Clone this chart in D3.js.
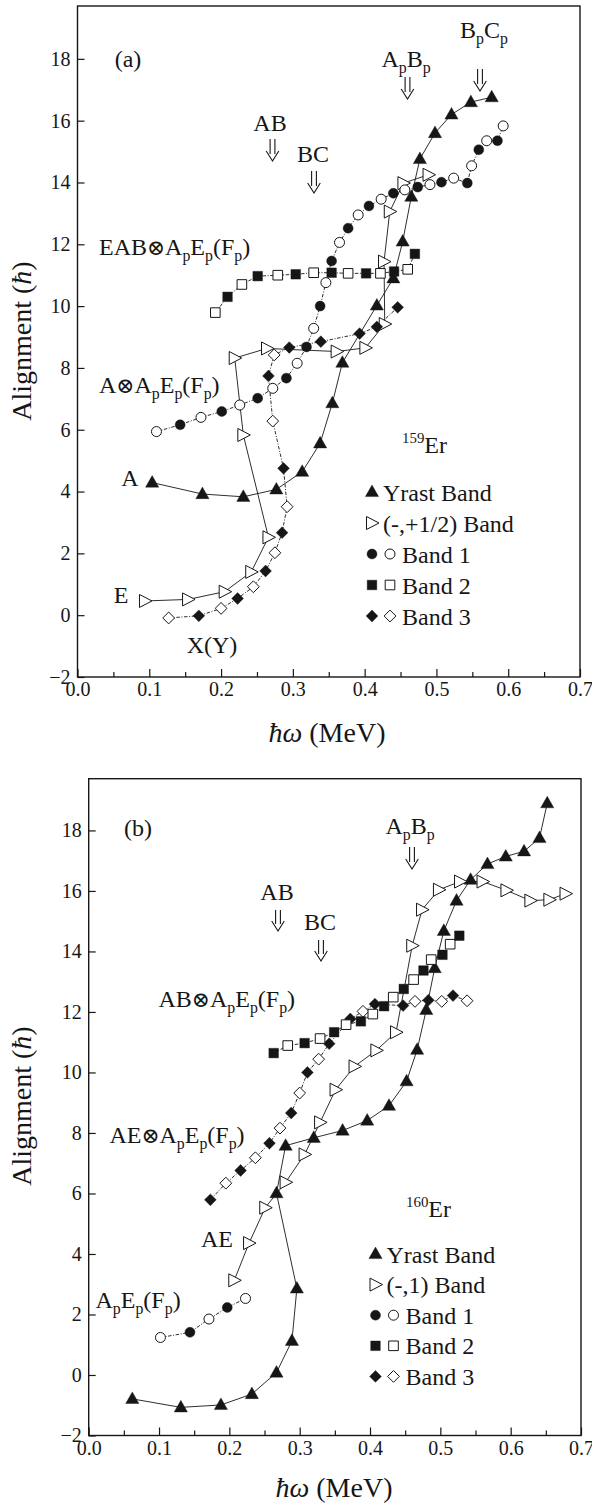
<!DOCTYPE html>
<html>
<head>
<meta charset="utf-8">
<script src="https://cdn.jsdelivr.net/npm/d3@7/dist/d3.min.js"></script>
<style>
  body { margin: 0; background: #fff; }
  svg { display: block; }
  text { font-family: "Liberation Serif", "Times New Roman", Times, serif; fill: #161616; }
</style>
</head>
<body>
<div id="fig"></div>
<script>
const WIDTH = 592, HEIGHT = 1508;
const FONT = '"Liberation Serif", "Times New Roman", Times, serif';

// axis ticks
const xTicks = [0, 0.1, 0.2, 0.3, 0.4, 0.5, 0.6, 0.7];
const xMinorTicks = [0.05, 0.15, 0.25, 0.35, 0.45, 0.55, 0.65];
const yTicks = [-2, 0, 2, 4, 6, 8, 10, 12, 14, 16, 18];

// ---- (a) 159Er : [hw, alignment] ; bands: [hw, alignment, filled?]
const yrastA = [[0.104,4.29],[0.174,3.92],[0.231,3.83],[0.277,4.07],[0.313,4.64],[0.338,5.56],[0.355,6.86],[0.369,8.17],
  [0.417,10.02],[0.440,10.9],[0.453,12.09],[0.465,13.54],[0.477,14.76],[0.498,15.6],[0.521,16.2],[0.548,16.6],[0.577,16.76]];
const minusHalfA = [[0.094,0.46],[0.154,0.51],[0.205,0.76],[0.242,1.40],[0.266,2.52],[0.231,5.83],[0.219,8.32],[0.264,8.63],
  [0.361,8.53],[0.401,8.65],[0.428,9.42],[0.427,11.44],[0.435,13.06],[0.454,13.98],[0.489,14.25]];
const band1A = [[0.110,5.94,0],[0.143,6.16,1],[0.172,6.40,0],[0.201,6.59,1],[0.226,6.80,0],[0.251,7.02,1],[0.272,7.34,0],
  [0.291,7.67,1],[0.306,8.15,0],[0.319,8.68,1],[0.329,9.28,0],[0.338,10.0,1],[0.346,10.76,0],[0.354,11.46,1],[0.365,12.06,0],
  [0.377,12.52,1],[0.391,12.95,0],[0.406,13.24,1],[0.423,13.46,0],[0.440,13.65,1],[0.456,13.76,0],[0.474,13.85,1],
  [0.491,13.93,0],[0.507,14.01,1],[0.524,14.14,0],[0.543,13.98,1],[0.549,14.54,0],[0.559,15.06,1],[0.570,15.35,0],
  [0.585,15.35,1],[0.593,15.83,0]];
const band2A = [[0.192,9.79,0],[0.209,10.30,1],[0.229,10.70,0],[0.251,10.97,1],[0.279,11.0,0],[0.304,11.03,1],[0.329,11.08,0],
  [0.354,11.08,1],[0.377,11.06,0],[0.402,11.06,1],[0.422,11.06,0],[0.441,11.12,1],[0.460,11.19,0],[0.470,11.69,1]];
const band3A = [[0.127,-0.09,0],[0.169,-0.02,1],[0.200,0.22,0],[0.223,0.54,1],[0.245,0.92,0],[0.262,1.43,1],[0.275,2.02,0],
  [0.285,2.67,1],[0.292,3.51,0],[0.287,4.75,1],[0.272,6.28,0],[0.266,7.74,1],[0.274,8.42,0],[0.295,8.66,1],[0.339,8.85,1],
  [0.393,9.11,1],[0.417,9.33,1],[0.446,9.96,1]];
const legendA = ["Yrast Band", "(-,+1/2) Band", "Band 1", "Band 2", "Band 3"];

// ---- (b) 160Er
const yrastB = [[0.062,-0.79],[0.131,-1.07],[0.188,-0.99],[0.232,-0.63],[0.267,0.08],[0.289,1.13],[0.296,2.86],[0.267,6.01],
  [0.280,7.58],[0.320,7.84],[0.361,8.08],[0.396,8.41],[0.427,8.90],[0.452,9.71],[0.467,10.75],[0.480,12.07],[0.492,13.45],
  [0.505,14.68],[0.523,15.68],[0.543,16.37],[0.567,16.89],[0.593,17.14],[0.619,17.31],[0.641,17.75],[0.652,18.9]];
const minusOneB = [[0.207,3.13],[0.228,4.36],[0.251,5.53],[0.280,6.37],[0.307,7.29],[0.329,8.35],[0.351,9.43],[0.378,10.20],
  [0.409,10.73],[0.437,11.33],[0.460,14.19],[0.474,15.38],[0.498,16.04],[0.528,16.31],[0.560,16.31],[0.594,16.02],
  [0.628,15.68],[0.655,15.71],[0.678,15.91]];
const band1B = [[0.102,1.24,0],[0.144,1.41,1],[0.171,1.85,0],[0.197,2.23,1],[0.223,2.53,0]];
const band2B = [[0.263,10.64,1],[0.283,10.89,0],[0.307,10.97,1],[0.329,11.12,0],[0.349,11.33,1],[0.366,11.58,0],[0.387,11.69,1],
  [0.404,11.93,0],[0.420,12.19,1],[0.433,12.49,0],[0.448,12.76,1],[0.462,13.07,0],[0.476,13.37,1],[0.487,13.73,0],
  [0.503,13.89,1],[0.514,14.24,0],[0.527,14.52,1]];
const band3B = [[0.173,5.79,1],[0.195,6.34,0],[0.216,6.76,1],[0.237,7.18,0],[0.257,7.66,1],[0.272,8.16,0],[0.288,8.66,1],
  [0.300,9.32,0],[0.311,10.0,1],[0.327,10.44,0],[0.342,10.95,1],[0.372,11.77,1],[0.390,12.02,0],[0.407,12.26,1],
  [0.447,12.21,1],[0.464,12.35,0],[0.483,12.39,1],[0.502,12.35,0],[0.518,12.54,1],[0.538,12.37,0]];
const legendB = ["Yrast Band", "(-,1) Band", "Band 1", "Band 2", "Band 3"];

const INK = '#161616';
const SHAPES = {
  tri: 'M0,-7L6.6,4.6L-6.6,4.6Z',
  rtri: 'M-5.5,-6.5L7,0L-5.5,6.5Z',
  circle: 'M5,0A5,5 0 1,1 -5,0A5,5 0 1,1 5,0Z',
  square: 'M-4.8,-4.8h9.6v9.6h-9.6Z',
  diamond: 'M0,-5.9L5.9,0L0,5.9L-5.9,0Z'
};

const svg = d3.select('#fig').append('svg').attr('width', WIDTH).attr('height', HEIGHT);

// text with "_x" subscripts, "^{..}" superscripts, *italic*, ⊗ drawn a bit smaller
function richText(g, x, y, str, size, anchor) {
  const t = g.append('text').attr('x', x).attr('y', y).attr('font-size', size)
      .attr('font-family', FONT).attr('text-anchor', anchor || 'start');
  const re = /_(.)|\^\{([^}]*)\}|\*([^*]*)\*|(⊗)|([^_^*⊗]+)/g;
  let m, shift = 0;
  while ((m = re.exec(str)) !== null) {
    const ts = t.append('tspan');
    if (m[1]) {
      ts.text(m[1]).attr('font-size', size * 0.66).attr('dy', size * 0.24 - shift); shift = size * 0.24;
    } else if (m[2]) {
      ts.text(m[2]).attr('font-size', size * 0.62).attr('dy', -size * 0.42 - shift); shift = -size * 0.42;
    } else {
      ts.text(m[3] || m[4] || m[5]);
      if (m[3]) ts.attr('font-style', 'italic');
      if (m[4]) ts.attr('font-size', size * 0.9).attr('font-family', '"DejaVu Serif", serif');
      if (shift) ts.attr('dy', -shift);
      shift = 0;
    }
  }
  return t;
}

function arrow(g, cx, y0, y1) {
  const p = d3.path();
  p.moveTo(cx - 2.4, y0); p.lineTo(cx - 2.4, y1 - 7);
  p.moveTo(cx + 2.4, y0); p.lineTo(cx + 2.4, y1 - 7);
  p.moveTo(cx - 6.3, y1 - 10); p.lineTo(cx, y1); p.lineTo(cx + 6.3, y1 - 10);
  g.append('path').attr('d', p.toString()).attr('fill', 'none').attr('stroke', INK).attr('stroke-width', 1.1);
}

function drawPanel(cfg) {
  const g = svg.append('g');
  const x = d3.scaleLinear().domain([0, 0.7]).range([cfg.left, cfg.right]);
  const y = d3.scaleLinear().domain([-2, 19.71]).range([cfg.bottom, cfg.top]);

  // axes
  const ax = g.append('g').attr('transform', `translate(0,${cfg.bottom})`)
    .call(d3.axisBottom(x).tickValues(xTicks).tickFormat(d3.format('.1f')).tickSize(-8).tickPadding(5));
  const axm = g.append('g').attr('transform', `translate(0,${cfg.bottom})`)
    .call(d3.axisBottom(x).tickValues(xMinorTicks).tickFormat('').tickSize(-5));
  const ay = g.append('g').attr('transform', `translate(${cfg.left},0)`)
    .call(d3.axisLeft(y).tickValues(yTicks).tickSize(-7).tickPadding(7));
  [ax, axm, ay].forEach(a => {
    a.attr('font-family', FONT);
    a.select('.domain').remove();
    a.selectAll('line').attr('stroke', INK).attr('stroke-width', 1.2);
    a.selectAll('text').attr('font-size', 20).attr('font-family', FONT).attr('fill', INK);
  });
  g.append('rect').attr('x', cfg.left).attr('y', cfg.top)
    .attr('width', cfg.right - cfg.left).attr('height', cfg.bottom - cfg.top)
    .attr('fill', 'none').attr('stroke', INK).attr('stroke-width', 1.4);

  // lines
  const line = d3.line().x(d => x(d[0])).y(d => y(d[1]));
  const series = [
    {data: cfg.yrast, shape: 'tri', dash: null},
    {data: cfg.minus, shape: 'rtri', dash: null},
    {data: cfg.band3, shape: 'diamond', dash: '3.5,1.6,1,1.6'},
    {data: cfg.band2, shape: 'square', dash: '3.5,1.6,1,1.6'},
    {data: cfg.band1, shape: 'circle', dash: '3.5,1.6,1,1.6'}
  ];
  series.forEach(s => {
    g.append('path').datum(s.data).attr('d', line)
      .attr('fill', 'none').attr('stroke', INK).attr('stroke-width', 0.9)
      .attr('stroke-dasharray', s.dash);
  });
  series.forEach((s, si) => {
    g.append('g').selectAll('path').data(s.data).join('path')
      .attr('d', SHAPES[s.shape])
      .attr('transform', d => `translate(${x(d[0])},${y(d[1])})`)
      .attr('fill', d => {
        const filled = si === 0 ? true : si === 1 ? false : d[2] === 1;
        return filled ? INK : '#fff';
      })
      .attr('stroke', INK)
      .attr('stroke-width', d => (si === 1 || (si > 1 && d[2] !== 1)) ? 1 : 0.4);
  });

  // axis titles
  richText(g, cfg.xTitle[0], cfg.xTitle[1], '*ħω* (MeV)', 28, 'middle');
  const yt = richText(g, 0, 0, 'Alignment (*ħ*)', 28, 'middle');
  yt.attr('transform', `translate(${cfg.yTitle[0]},${cfg.yTitle[1]}) rotate(-90)`);

  // annotations
  cfg.labels.forEach(l => richText(g, l[0], l[1], l[2], l[3] || 24, l[4] || 'start'));
  cfg.arrows.forEach(a => arrow(g, a[0], a[1], a[2]));

  // legend
  const rows = [
    [['tri', 1]], [['rtri', 0]], [['circle', 1], ['circle', 0]],
    [['square', 1], ['square', 0]], [['diamond', 1], ['diamond', 0]]
  ];
  rows.forEach((r, i) => {
    const cy = cfg.legend.y0 + i * cfg.legend.dy;
    r.forEach((sym, j) => {
      g.append('path').attr('d', SHAPES[sym[0]])
        .attr('transform', `translate(${cfg.legend.x + j * cfg.legend.dx},${cy})`)
        .attr('fill', sym[1] ? INK : '#fff').attr('stroke', INK).attr('stroke-width', sym[1] ? 0.4 : 1);
    });
    const tx = r.length > 1 ? cfg.legend.x + cfg.legend.dx + 12 : cfg.legend.x + 11;
    g.append('text').attr('x', tx).attr('y', cy + 8.5).attr('font-size', 24)
      .attr('font-family', FONT).text(cfg.legendText[i]);
  });
}

drawPanel({
  left: 77.5, right: 580, top: 6, bottom: 677,
  yrast: yrastA, minus: minusHalfA, band1: band1A, band2: band2A, band3: band3A,
  legendText: legendA,
  legend: {x: 372, y0: 492, dy: 31, dx: 18},
  xTitle: [327, 742], yTitle: [31, 341],
  labels: [
    [128, 67, '(a)', 24, 'middle'],
    [270, 131, 'AB', 24, 'middle'],
    [313, 162, 'BC', 24, 'middle'],
    [406, 67, 'A_pB_p', 24, 'middle'],
    [484, 38, 'B_pC_p', 24, 'middle'],
    [99, 255, 'EAB⊗A_pE_p(F_p)', 24],
    [99, 393, 'A⊗A_pE_p(F_p)', 24],
    [130, 486, 'A', 24, 'middle'],
    [121, 603, 'E', 24, 'middle'],
    [212, 653, 'X(Y)', 24, 'middle'],
    [402, 453, '^{159}Er', 24]
  ],
  arrows: [[272.5, 139, 161], [314, 171, 193], [407.5, 77, 99], [480, 69, 91]]
});

drawPanel({
  left: 88.7, right: 581, top: 778.7, bottom: 1435.5,
  yrast: yrastB, minus: minusOneB, band1: band1B, band2: band2B, band3: band3B,
  legendText: legendB,
  legend: {x: 375.5, y0: 1254, dy: 30.6, dx: 18},
  xTitle: [334, 1497], yTitle: [31, 1106],
  labels: [
    [138, 836, '(b)', 24, 'middle'],
    [410, 834, 'A_pB_p', 24, 'middle'],
    [277, 900, 'AB', 24, 'middle'],
    [320, 930, 'BC', 24, 'middle'],
    [158.5, 1007, 'AB⊗A_pE_p(F_p)', 24],
    [109.4, 1143, 'AE⊗A_pE_p(F_p)', 24],
    [217, 1247, 'AE', 24, 'middle'],
    [95.5, 1308, 'A_pE_p(F_p)', 24],
    [406, 1217, '^{160}Er', 24]
  ],
  arrows: [[412, 847, 869], [278, 910, 931], [321, 940, 961]]
});
</script>
</body>
</html>
